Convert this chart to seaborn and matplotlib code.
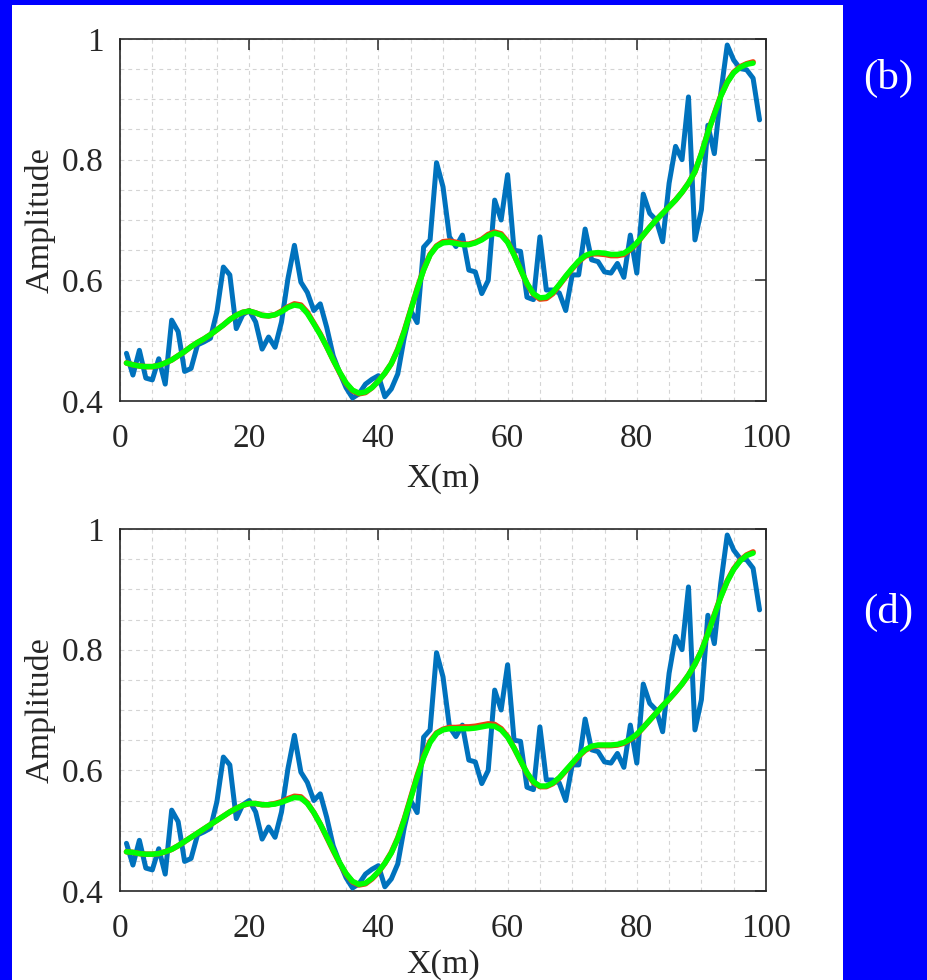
import matplotlib
matplotlib.use("Agg")
import matplotlib.pyplot as plt
from matplotlib.patches import Rectangle
from matplotlib.ticker import MultipleLocator
import numpy as np
import pandas as pd
import seaborn as sns

# ---- data -------------------------------------------------------------
x_meas = list(range(1, 100))
amp_meas = [
    0.479, 0.443, 0.484, 0.438, 0.435, 0.470, 0.428, 0.534, 0.515, 0.449,
    0.454, 0.493, 0.498, 0.504, 0.548, 0.622, 0.609, 0.520, 0.543, 0.550,
    0.531, 0.486, 0.506, 0.489, 0.531, 0.603, 0.658, 0.597, 0.580, 0.550,
    0.561, 0.522, 0.475, 0.447, 0.422, 0.405, 0.412, 0.428, 0.436, 0.442,
    0.407, 0.420, 0.445, 0.505, 0.550, 0.530, 0.655, 0.667, 0.795, 0.755,
    0.672, 0.656, 0.675, 0.617, 0.614, 0.578, 0.600, 0.733, 0.700, 0.775,
    0.650, 0.648, 0.572, 0.568, 0.672, 0.584, 0.584, 0.579, 0.550, 0.609,
    0.609, 0.685, 0.634, 0.631, 0.614, 0.612, 0.628, 0.605, 0.675, 0.612,
    0.743, 0.711, 0.700, 0.664, 0.761, 0.822, 0.800, 0.904, 0.667, 0.717,
    0.857, 0.810, 0.910, 0.990, 0.965, 0.951, 0.949, 0.935, 0.866,
]

x_fit = list(range(1, 99))
green_b = [
    0.463, 0.460, 0.458, 0.457, 0.457, 0.459, 0.463, 0.468, 0.475, 0.482,
    0.490, 0.497, 0.503, 0.510, 0.518, 0.526, 0.535, 0.542, 0.547, 0.549,
    0.546, 0.542, 0.541, 0.543, 0.548, 0.555, 0.559, 0.557, 0.545, 0.528,
    0.510, 0.490, 0.468, 0.448, 0.430, 0.418, 0.413, 0.415, 0.422, 0.433,
    0.446, 0.462, 0.485, 0.515, 0.550, 0.585, 0.617, 0.642, 0.656, 0.662,
    0.663, 0.661, 0.659, 0.659, 0.662, 0.667, 0.674, 0.678, 0.675, 0.663,
    0.642, 0.618, 0.595, 0.578, 0.571, 0.572, 0.580, 0.593, 0.607, 0.620,
    0.632, 0.641, 0.645, 0.646, 0.645, 0.643, 0.643, 0.645, 0.652, 0.662,
    0.675, 0.688, 0.700, 0.711, 0.722, 0.733, 0.746, 0.761, 0.780, 0.810,
    0.845, 0.875, 0.905, 0.928, 0.944, 0.953, 0.958, 0.960,
]
red_b = [
    0.463, 0.460, 0.458, 0.457, 0.457, 0.459, 0.463, 0.468, 0.475, 0.482,
    0.490, 0.497, 0.503, 0.510, 0.518, 0.526, 0.535, 0.542, 0.547, 0.549,
    0.546, 0.542, 0.541, 0.543, 0.549, 0.556, 0.561, 0.559, 0.547, 0.529,
    0.511, 0.490, 0.468, 0.447, 0.429, 0.417, 0.412, 0.414, 0.422, 0.433,
    0.446, 0.462, 0.486, 0.516, 0.551, 0.586, 0.618, 0.643, 0.657, 0.664,
    0.665, 0.663, 0.660, 0.660, 0.663, 0.668, 0.676, 0.680, 0.677, 0.664,
    0.643, 0.618, 0.594, 0.577, 0.569, 0.570, 0.578, 0.592, 0.606, 0.619,
    0.631, 0.640, 0.644, 0.644, 0.643, 0.641, 0.641, 0.643, 0.651, 0.661,
    0.675, 0.688, 0.700, 0.711, 0.722, 0.733, 0.746, 0.761, 0.780, 0.810,
    0.845, 0.876, 0.906, 0.929, 0.945, 0.954, 0.959, 0.962,
]
green_d = [
    0.465, 0.464, 0.462, 0.461, 0.461, 0.462, 0.465, 0.469, 0.475, 0.482,
    0.489, 0.496, 0.503, 0.510, 0.517, 0.524, 0.531, 0.537, 0.542, 0.545,
    0.545, 0.543, 0.543, 0.544, 0.547, 0.551, 0.555, 0.554, 0.545, 0.530,
    0.511, 0.490, 0.468, 0.447, 0.429, 0.416, 0.411, 0.413, 0.421, 0.432,
    0.446, 0.463, 0.487, 0.518, 0.553, 0.589, 0.621, 0.646, 0.661, 0.667,
    0.669, 0.669, 0.669, 0.669, 0.670, 0.672, 0.674, 0.673, 0.667, 0.655,
    0.637, 0.616, 0.596, 0.581, 0.574, 0.574, 0.579, 0.588, 0.600, 0.612,
    0.624, 0.634, 0.640, 0.642, 0.642, 0.642, 0.643, 0.646, 0.652, 0.660,
    0.671, 0.683, 0.695, 0.707, 0.718, 0.730, 0.743, 0.758, 0.776, 0.798,
    0.826, 0.857, 0.887, 0.913, 0.933, 0.947, 0.956, 0.960,
]
red_d = [
    0.465, 0.464, 0.462, 0.461, 0.461, 0.462, 0.465, 0.469, 0.475, 0.482,
    0.489, 0.496, 0.503, 0.510, 0.517, 0.524, 0.531, 0.537, 0.542, 0.545,
    0.545, 0.543, 0.543, 0.545, 0.548, 0.553, 0.557, 0.556, 0.546, 0.530,
    0.511, 0.489, 0.467, 0.446, 0.428, 0.415, 0.410, 0.412, 0.420, 0.431,
    0.446, 0.464, 0.488, 0.519, 0.555, 0.591, 0.623, 0.648, 0.662, 0.668,
    0.671, 0.671, 0.672, 0.672, 0.673, 0.675, 0.677, 0.676, 0.669, 0.656,
    0.637, 0.616, 0.595, 0.580, 0.573, 0.573, 0.578, 0.587, 0.599, 0.611,
    0.623, 0.633, 0.639, 0.641, 0.641, 0.641, 0.642, 0.645, 0.651, 0.659,
    0.671, 0.683, 0.695, 0.707, 0.718, 0.730, 0.743, 0.758, 0.776, 0.798,
    0.827, 0.858, 0.888, 0.914, 0.934, 0.948, 0.957, 0.962,
]

x_ticks = [0, 20, 40, 60, 80, 100]
y_ticks = [0.4, 0.6, 0.8, 1.0]
y_tick_labels = ["0.4", "0.6", "0.8", "1"]
panel_tags = ["(b)", "(d)"]

# ---- style ------------------------------------------------------------
sns.set_style("white")
plt.rcParams["font.family"] = ["Liberation Serif", "DejaVu Serif"]

W, H = 928, 980
fig = plt.figure(figsize=(W / 100, H / 100), dpi=100, facecolor="#0000FF")
fig.add_artist(Rectangle((12 / W, 0), (843 - 12) / W, (H - 5) / H,
                         transform=fig.transFigure, facecolor="white",
                         edgecolor="none", zorder=0))

meas_df = pd.DataFrame({"x": x_meas, "amp": amp_meas})
fits = [(green_b, red_b), (green_d, red_d)]

ax_left, ax_w, ax_h = 120 / W, 646 / W, 362 / H
ax_bottoms = [(H - 401) / H, (H - 891) / H]
tag_y = [78, 612]
xlabel_pads = [7, 4]

for k, (green, red) in enumerate(fits):
    ax = fig.add_axes([ax_left, ax_bottoms[k], ax_w, ax_h])
    fit_df = pd.DataFrame({"x": x_fit, "green": green, "red": red})

    sns.lineplot(data=meas_df, x="x", y="amp", ax=ax, color="#0072BD",
                 lw=3.6, zorder=3)
    sns.lineplot(data=fit_df, x="x", y="red", ax=ax, color="#F03C10",
                 lw=4.0, zorder=4)
    sns.lineplot(data=fit_df, x="x", y="green", ax=ax, color="#00FF00",
                 lw=3.9, zorder=5)

    ax.set_xlim(0, 100)
    ax.set_ylim(0.4, 1.0)
    ax.set_xticks(x_ticks)
    ax.set_yticks(y_ticks)
    ax.set_yticklabels(y_tick_labels)
    ax.xaxis.set_minor_locator(MultipleLocator(5))
    ax.yaxis.set_minor_locator(MultipleLocator(0.05))
    ax.grid(which="both", color="#d4d4d4", ls=(0, (3.5, 3.5)), lw=0.8,
            zorder=0)
    ax.set_axisbelow(True)

    ax.tick_params(which="major", direction="in", length=8, width=1.1,
                   top=True, right=True, labelsize=24, colors="#262626")
    ax.tick_params(axis="x", which="major", pad=16)
    ax.tick_params(axis="y", which="major", pad=12)
    ax.tick_params(which="minor", length=0)
    for sp in ax.spines.values():
        sp.set_color("#262626")
        sp.set_linewidth(1.2)

    ax.set_xlabel("X(m)", fontsize=24.5, color="#262626",
                  labelpad=xlabel_pads[k])
    ax.set_ylabel("Amplitude", fontsize=24.5, color="#262626", labelpad=4)

    fig.text(888 / W, 1 - tag_y[k] / H, panel_tags[k], color="white",
             fontsize=31, ha="center", va="center")

fig.savefig("out.png", dpi=100, facecolor=fig.get_facecolor())
